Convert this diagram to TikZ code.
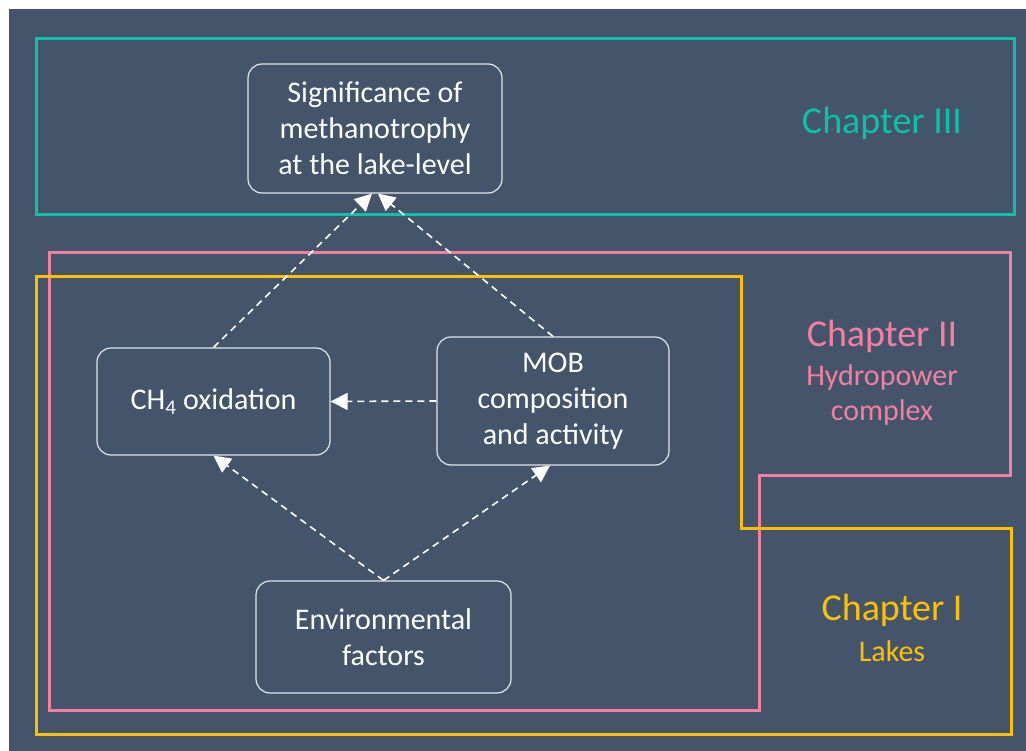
\documentclass[tikz,border=0pt]{standalone}
\usepackage{fontspec}
\setmainfont{Carlito}
\usepackage{xcolor}
\usepackage{tikz}
\usetikzlibrary{arrows.meta,positioning,calc}
\definecolor{bgslate}{RGB}{68,84,106}
\definecolor{chteal}{RGB}{10,194,172}
\definecolor{chpink}{RGB}{242,128,158}
\definecolor{chgold}{RGB}{255,192,0}
\tikzset{
  topic/.style={draw=white!85!bgslate, line width=1.2pt, rounded corners=14pt, text=white,
    font=\fontsize{30}{36}\selectfont, align=center, inner sep=0pt},
  link/.style={-{Triangle[width=17pt,length=17pt]}, white, line width=1.6pt, dash pattern=on 7pt off 5pt},
  frame/.style={line width=3pt},
  chtitle/.style={font=\fontsize{38}{42}\selectfont, align=center},
  chsub/.style={font=\fontsize{30}{35}\selectfont, align=center},
}
\begin{document}
\begin{tikzpicture}[x=1pt,y=-1pt]
  \useasboundingbox (0,0) rectangle (1026,751);
  \fill[bgslate] (9,9) rectangle (1026,751);
  % chapter frames
  \draw[frame, chteal] (36,39) rectangle (1014,215);
  \draw[frame, chpink] (49,253) -- (1010,253) -- (1010,475) -- (759,475) -- (759,710) -- (49,710) -- cycle;
  \draw[frame, chgold] (36,277) -- (741,277) -- (741,528) -- (1011,528) -- (1011,734) -- (36,734) -- cycle;
  % chapter labels
  \node[chtitle, text=chteal] (ch3) at (882,123) {Chapter III};
  \node[chtitle, text=chpink] (ch2) at (882,336) {Chapter II};
  \node[chsub, text=chpink] (ch2sub) at (882,395) {Hydropower\\complex};
  \node[chtitle, text=chgold] (ch1) at (892,610) {Chapter I};
  \node[chsub, text=chgold] (ch1sub) at (892,651) {Lakes};
  % topics
  \node[topic, minimum width=254pt, minimum height=129pt] (sig) at (375,128.5)
    {Significance of\\methanotrophy\\at the lake-level};
  \node[topic, minimum width=233pt, minimum height=107pt] (ch4) at (213.5,401.5)
    {CH\textsubscript{4} oxidation};
  \node[topic, minimum width=232pt, minimum height=128pt] (mob) at (553,401)
    {MOB\\composition\\and activity};
  \node[topic, minimum width=255pt, minimum height=112pt] (env) at (383.5,637)
    {Environmental\\factors};
  % links
  \draw[link] (ch4.north) -- ($(sig.south)+(-3,0)$);
  \draw[link] (mob.north) -- ($(sig.south)+(3,0)$);
  \draw[link] (mob.west) -- (ch4.east);
  \draw[link] (env.north) -- (ch4.south);
  \draw[link] (env.north) -- ($(mob.south)+(-3,0)$);
\end{tikzpicture}
\end{document}
